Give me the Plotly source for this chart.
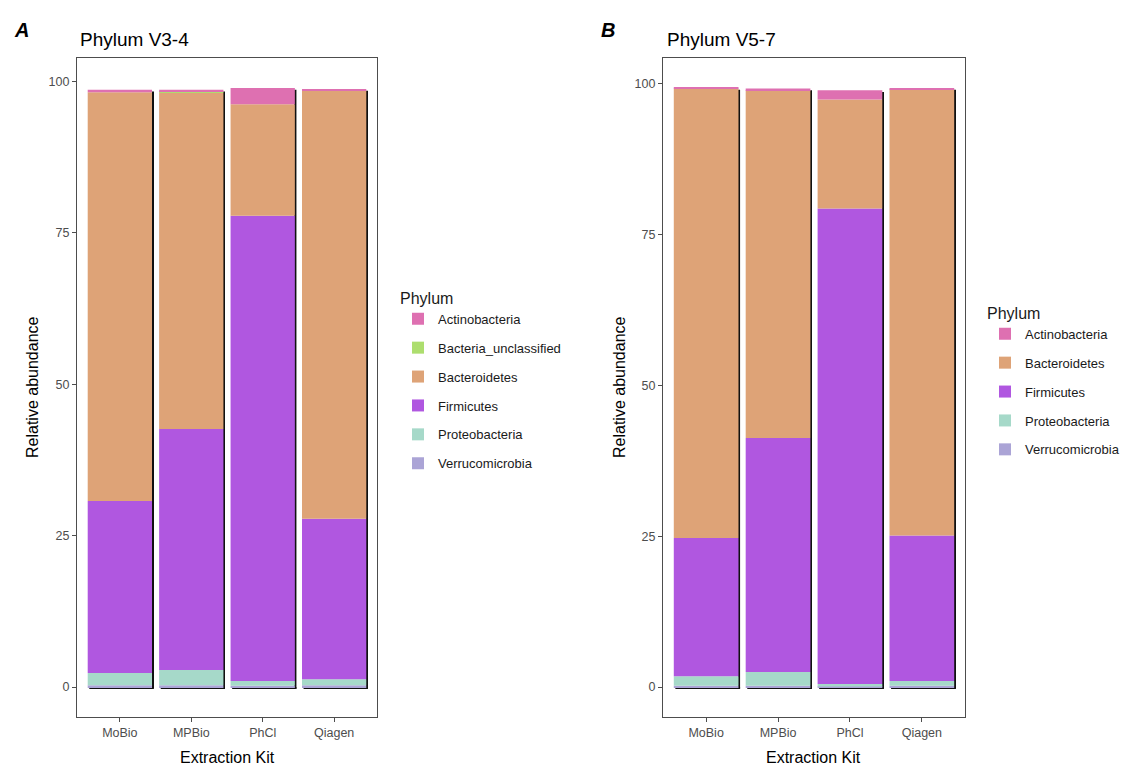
import plotly.graph_objects as go
import numpy as np

kits = ["MoBio", "MPBio", "PhCl", "Qiagen"]

# Stacking order, bottom to top
phyla_v34 = ["Verrucomicrobia", "Proteobacteria", "Firmicutes", "Bacteroidetes",
             "Bacteria_unclassified", "Actinobacteria"]
phyla_v57 = ["Verrucomicrobia", "Proteobacteria", "Firmicutes", "Bacteroidetes",
             "Actinobacteria"]

# Relative abundance (%) per kit, V3-4 region
v34_verrucomicrobia = [0.3, 0.3, 0.2, 0.3]
v34_proteobacteria = [2.0, 2.5, 0.8, 1.0]
v34_firmicutes = [28.4, 39.8, 76.8, 26.5]
v34_bacteroidetes = [67.5, 55.5, 18.4, 70.7]
v34_bacteria_unclassified = [0.0, 0.2, 0.0, 0.0]
v34_actinobacteria = [0.4, 0.3, 2.7, 0.2]

# Relative abundance (%) per kit, V5-7 region
v57_verrucomicrobia = [0.2, 0.2, 0.1, 0.2]
v57_proteobacteria = [1.6, 2.3, 0.4, 0.8]
v57_firmicutes = [22.9, 38.8, 78.8, 24.1]
v57_bacteroidetes = [74.5, 57.6, 18.1, 74.0]
v57_actinobacteria = [0.1, 0.3, 1.5, 0.2]

colors = {
    "Actinobacteria": "#DE70B1",
    "Bacteria_unclassified": "#ADDE6E",
    "Bacteroidetes": "#DEA377",
    "Firmicutes": "#B057E0",
    "Proteobacteria": "#A6D9C9",
    "Verrucomicrobia": "#ABA4D6",
}

legend_order = ["Actinobacteria", "Bacteria_unclassified", "Bacteroidetes",
                "Firmicutes", "Proteobacteria", "Verrucomicrobia"]

v34 = {
    "Verrucomicrobia": v34_verrucomicrobia,
    "Proteobacteria": v34_proteobacteria,
    "Firmicutes": v34_firmicutes,
    "Bacteroidetes": v34_bacteroidetes,
    "Bacteria_unclassified": v34_bacteria_unclassified,
    "Actinobacteria": v34_actinobacteria,
}
v57 = {
    "Verrucomicrobia": v57_verrucomicrobia,
    "Proteobacteria": v57_proteobacteria,
    "Firmicutes": v57_firmicutes,
    "Bacteroidetes": v57_bacteroidetes,
    "Actinobacteria": v57_actinobacteria,
}

FONT = "Liberation Sans, Arial, sans-serif"
BAR_W = 0.9
EDGE_X = 0.022   # width of the dark right edge, in category units
EDGE_Y = 0.28    # depth of the dark bottom edge, in percent units

fig = go.Figure()


def add_panel(data, order, xa, ya, legend_name):
    totals = np.sum([data[p] for p in order], axis=0)
    n = len(kits)
    # dark right-hand edge of each column
    fig.add_trace(go.Bar(
        x=kits, y=totals, base=[-EDGE_Y] * n, width=EDGE_X,
        offset=BAR_W / 2, marker=dict(color="#111111", line=dict(width=0)),
        xaxis=xa, yaxis=ya, showlegend=False, hoverinfo="skip",
    ))
    # dark bottom edge of each column
    fig.add_trace(go.Bar(
        x=kits, y=[EDGE_Y] * n, base=[-EDGE_Y] * n, width=BAR_W,
        offset=-BAR_W / 2 + EDGE_X, marker=dict(color="#111111", line=dict(width=0)),
        xaxis=xa, yaxis=ya, showlegend=False, hoverinfo="skip",
    ))
    base = np.zeros(n)
    for p in order:
        vals = np.array(data[p])
        fig.add_trace(go.Bar(
            x=kits, y=vals, base=base.copy(), width=BAR_W, offset=-BAR_W / 2,
            name=p, marker=dict(color=colors[p], line=dict(width=0)),
            xaxis=xa, yaxis=ya, legend=legend_name, legendgroup=legend_name + p,
            legendrank=legend_order.index(p) + 1,
        ))
        base = base + vals
    return totals


t1 = add_panel(v34, phyla_v34, "x", "y", "legend")
t2 = add_panel(v57, phyla_v57, "x2", "y2", "legend2")

axis_common = dict(
    showline=True, mirror=True, linecolor="#4D4D4D", linewidth=1.2,
    ticks="outside", ticklen=4, tickcolor="#4D4D4D", showgrid=False,
    zeroline=False, tickfont=dict(family=FONT, size=12.5, color="#4D4D4D"),
)

ydom = [1 - 717 / 765, 1 - 58 / 765]
fig.update_layout(
    width=1138, height=765,
    margin=dict(l=0, r=0, t=0, b=0),
    paper_bgcolor="white", plot_bgcolor="white",
    barmode="overlay", bargap=0.1,
    font=dict(family=FONT, color="black"),
    xaxis=dict(domain=[77 / 1138, 377 / 1138], range=[-0.6, 3.6], **axis_common),
    yaxis=dict(domain=ydom, range=[-0.05 * max(t1), 1.05 * max(t1)],
               tickvals=[0, 25, 50, 75, 100], **axis_common),
    xaxis2=dict(domain=[663 / 1138, 965 / 1138], range=[-0.6, 3.6], anchor="y2",
                **axis_common),
    yaxis2=dict(domain=ydom, range=[-0.05 * max(t2), 1.05 * max(t2)], anchor="x2",
                tickvals=[0, 25, 50, 75, 100], **axis_common),
    legend=dict(x=398 / 1138, y=1 - 283 / 765, xanchor="left", yanchor="top",
                title=dict(text="Phylum", font=dict(size=16, family=FONT)),
                font=dict(size=13, family=FONT, color="#1A1A1A"),
                tracegroupgap=9, bgcolor="rgba(0,0,0,0)"),
    legend2=dict(x=985 / 1138, y=1 - 298 / 765, xanchor="left", yanchor="top",
                 title=dict(text="Phylum", font=dict(size=16, family=FONT)),
                 font=dict(size=13, family=FONT, color="#1A1A1A"),
                 tracegroupgap=9, bgcolor="rgba(0,0,0,0)"),
)

annotations = [
    dict(text="<b><i>A</i></b>", x=12 / 1138, y=1 - 30 / 765, font=dict(size=20)),
    dict(text="<b><i>B</i></b>", x=599 / 1138, y=1 - 30 / 765, font=dict(size=20)),
    dict(text="Phylum V3-4", x=78 / 1138, y=1 - 39 / 765, font=dict(size=19)),
    dict(text="Phylum V5-7", x=665 / 1138, y=1 - 39 / 765, font=dict(size=19)),
    dict(text="Extraction Kit", x=227 / 1138, y=1 - 757 / 765, xanchor="center",
         font=dict(size=16)),
    dict(text="Extraction Kit", x=814 / 1138, y=1 - 757 / 765, xanchor="center",
         font=dict(size=16)),
    dict(text="Relative abundance", x=32 / 1138, y=1 - 387 / 765, xanchor="center",
         textangle=-90, font=dict(size=16)),
    dict(text="Relative abundance", x=619 / 1138, y=1 - 387 / 765, xanchor="center",
         textangle=-90, font=dict(size=16)),
]
for a in annotations:
    a.setdefault("xanchor", "left")
    a.update(xref="paper", yref="paper", yanchor="middle", showarrow=False)
    a["font"].update(family=FONT, color="black")
fig.update_layout(annotations=annotations)

fig.write_html("out.html")
